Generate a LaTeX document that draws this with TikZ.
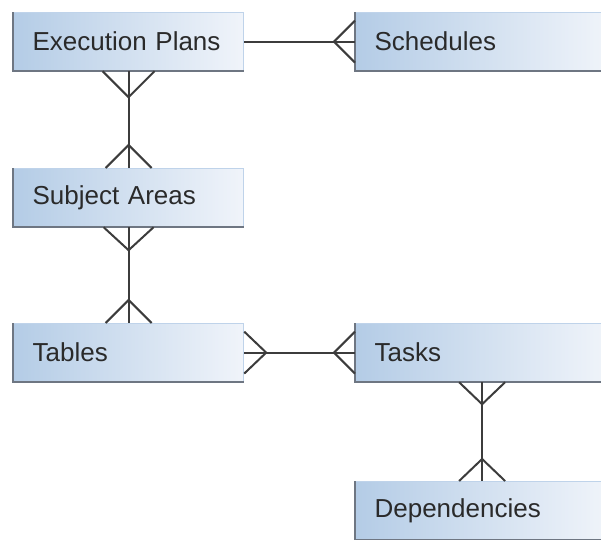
\documentclass[tikz,border=0pt]{standalone}
\usepackage{fontspec}
\setmainfont{Liberation Sans}
\usepackage{tikz}
\usetikzlibrary{calc}
\definecolor{boxdark}{HTML}{B4CCE6}
\definecolor{boxlight}{HTML}{F0F4FA}
\definecolor{boxedge}{HTML}{BFD3EA}
\definecolor{shadowcol}{HTML}{6E7682}
\definecolor{linecol}{HTML}{3C3C3C}
\definecolor{txtcol}{HTML}{2A2A2A}
% crow's foot: anchor point, then the step towards the tip, then the spread
\def\crowfoot(#1)(#2,#3)(#4,#5){\draw[link] ($(#1)+(#4,#5)$) -- ($(#1)+(#2,#3)$) -- ($(#1)-(#4,#5)$);}

\begin{document}
\begin{tikzpicture}[x=1pt, y=-1pt,
	entity/.style={left color=boxdark, right color=boxlight, draw=boxedge, line width=1.2pt,
		anchor=north west, minimum height=58pt, inner xsep=19pt, inner ysep=0pt, text width=#1, align=left,
		text=txtcol, font=\fontsize{26}{30}\selectfont},
	entity/.default=192pt,
	link/.style={draw=linecol, line width=2pt}]
		%%%%% START %%%%%
		
		\useasboundingbox (0, 0) rectangle (601, 539);
		
		\node[entity] (plans) at (13, 12) {Execution Plans};
		\node[entity=215pt] (sched) at (355, 12) {Schedules};
		\node[entity] (areas) at (13, 168) {Subject Areas};
		\node[entity] (tables) at (13, 323) {Tables};
		\node[entity=215pt] (tasks) at (355, 323) {Tasks};
		\node[entity=215pt] (deps) at (355, 481) {Dependencies};
		
		% shadow on left and bottom edges
		\foreach \n in {plans, sched, areas, tables, tasks, deps}
			\draw[shadowcol, line width=2.2pt] (\n.north west) -- (\n.south west) -- (\n.south east);
		
		\draw[link] (plans) -- (sched);
		\draw[link] (plans) -- (areas);
		\draw[link] (areas) -- (tables);
		\draw[link] (tables) -- (tasks);
		\draw[link] (tasks.south -| deps.north) -- (deps.north);
		
		\crowfoot(plans.south)(0, 26)(-26, 0)
		\crowfoot(sched.west)(-21, 0)(0, -21)
		\crowfoot(areas.north)(0, -23)(-23, 0)
		\crowfoot(areas.south)(0, 23)(-25, 0)
		\crowfoot(tables.north)(0, -23)(-23, 0)
		\crowfoot(tables.east)(22, 0)(0, -21)
		\crowfoot(tasks.west)(-21, 0)(0, -21)
		\crowfoot(tasks.south -| deps.north)(0, 22)(-23, 0)
		\crowfoot(deps.north)(0, -22)(-23, 0)
		
		%%%%% END %%%%%
	\end{tikzpicture}
\end{document}
